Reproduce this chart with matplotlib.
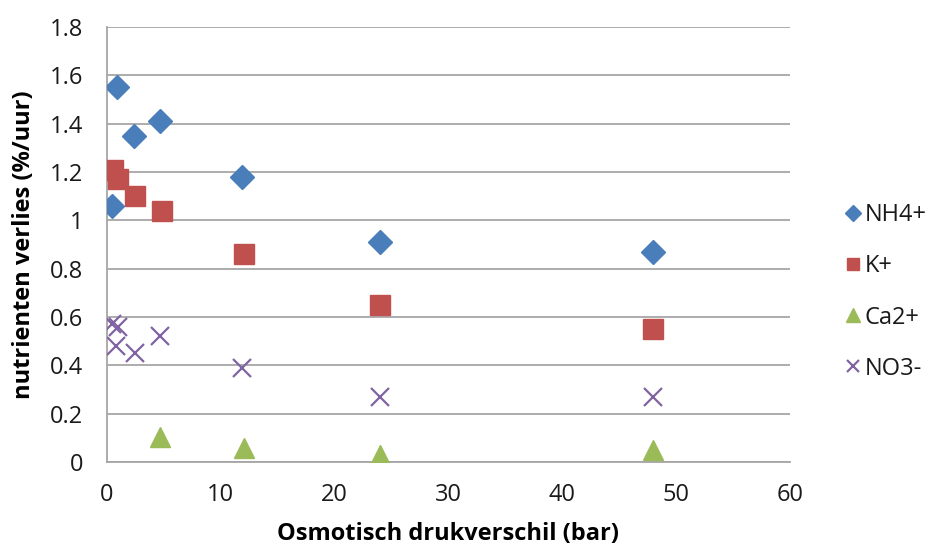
import matplotlib
matplotlib.use('Agg')
import matplotlib.pyplot as plt
from matplotlib.ticker import FuncFormatter, MultipleLocator

plt.rcParams['font.family'] = ['Open Sans', 'DejaVu Sans']

# osmotisch drukverschil (bar) en nutrientenverlies (%/uur)
nh4_x = [0.4, 0.85, 2.4, 4.7, 11.9, 24.0, 48.0]
nh4_y = [1.06, 1.55, 1.35, 1.41, 1.18, 0.91, 0.87]

k_x = [0.5, 1.0, 2.5, 4.8, 12.0, 24.0, 48.0]
k_y = [1.21, 1.17, 1.10, 1.04, 0.86, 0.65, 0.55]

ca_x = [4.7, 12.0, 24.0, 48.0]
ca_y = [0.105, 0.057, 0.029, 0.05]

no3_x = [0.4, 1.0, 0.8, 2.5, 4.7, 11.9, 24.0, 48.0]
no3_y = [0.57, 0.56, 0.48, 0.45, 0.52, 0.39, 0.27, 0.27]

fig = plt.figure(figsize=(9.36, 5.53), dpi=100)
ax = fig.add_axes([0.1143, 0.1646, 0.7297, 0.7866])

ax.plot(nh4_x, nh4_y, linestyle='none', marker='D', markersize=12,
        color='#4a7ebb', markeredgecolor='#4a7ebb', label='NH4+', zorder=3)
ax.plot(k_x, k_y, linestyle='none', marker='s', markersize=14,
        color='#c0504d', markeredgecolor='#c0504d', label='K+', zorder=3)
ax.plot(ca_x, ca_y, linestyle='none', marker='^', markersize=15,
        color='#9bbb59', markeredgecolor='#9bbb59', label='Ca2+', zorder=3)
ax.plot(no3_x, no3_y, linestyle='none', marker='x', markersize=13,
        markeredgewidth=1.6, color='#8064a2', label='NO3-', zorder=3)

ax.set_xlim(0, 60)
ax.set_ylim(0, 1.8)
ax.xaxis.set_major_locator(MultipleLocator(10))
ax.yaxis.set_major_locator(MultipleLocator(0.2))
ax.yaxis.set_major_formatter(FuncFormatter(lambda v, p: '%g' % round(v, 1)))

ax.grid(axis='y', color='#a6a6a6', linewidth=1.3)
ax.set_axisbelow(True)
for side in ['top', 'right']:
    ax.spines[side].set_visible(False)
for side in ['left', 'bottom']:
    ax.spines[side].set_color('#a6a6a6')
    ax.spines[side].set_linewidth(1.3)
ax.tick_params(axis='y', length=0, labelsize=17, labelcolor='#1a1a1a', pad=17)
ax.tick_params(axis='x', length=0, labelsize=17, labelcolor='#1a1a1a', pad=15)

ax.set_xlabel('Osmotisch drukverschil (bar)', fontsize=17, fontweight='bold', labelpad=11)
ax.set_ylabel('nutrienten verlies (%/uur)', fontsize=17, fontweight='bold', labelpad=10)

leg = ax.legend(loc='center left', bbox_to_anchor=(0.905, 0.472), bbox_transform=fig.transFigure,
                frameon=False, fontsize=17, markerscale=0.65, handlelength=0.5,
                handletextpad=0.25, labelspacing=1.15, borderaxespad=0, borderpad=0)
for txt in leg.get_texts():
    txt.set_color('#1a1a1a')

fig.savefig('out.png', dpi=100)
